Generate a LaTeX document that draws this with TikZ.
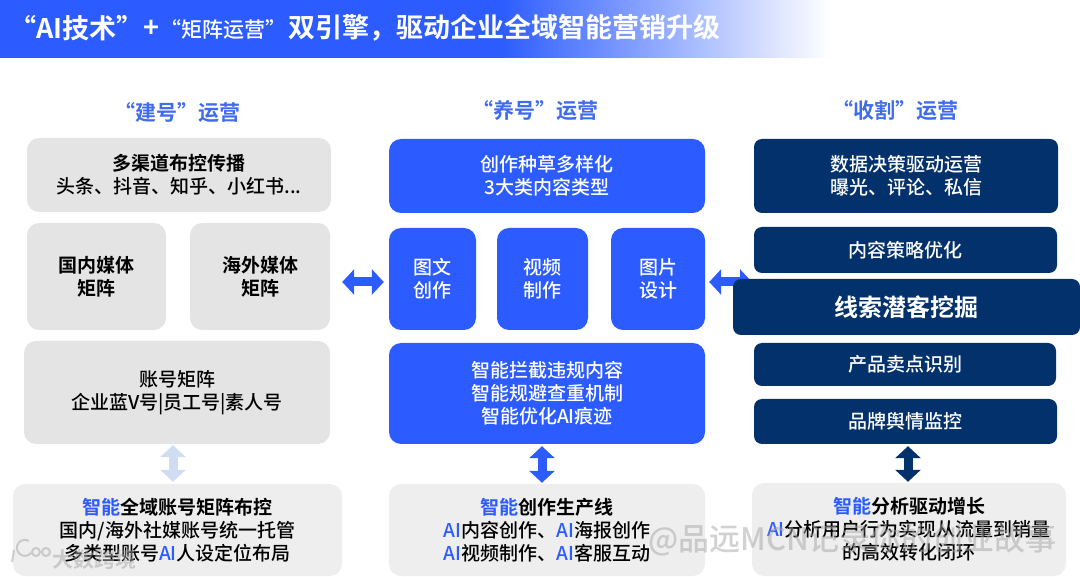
\documentclass[tikz,border=0pt]{standalone}
\usepackage{fontspec}
\setmainfont{Noto Sans CJK SC}[UprightFont=* Medium, BoldFont=* Bold]
\usetikzlibrary{arrows.meta, calc, positioning}
\definecolor{brandblue}{HTML}{2C5CFF}
\definecolor{headblue}{HTML}{3F6BEE}
\definecolor{navy}{HTML}{03316B}
\definecolor{greyA}{HTML}{E4E4E4}
\definecolor{greyB}{HTML}{EEEEEE}
\definecolor{paleblue}{HTML}{CFDCF2}
\tikzset{
    block/.style={rounded corners=12pt, inner sep=0pt, align=center, font=\fontsize{19}{23}\selectfont},
    greybox/.style={block, fill=greyA, text=black},
    aibox/.style={block, fill=greyB, text=black},
    bluebox/.style={block, fill=brandblue, text=white},
    navybox/.style={block, fill=navy, text=white, rounded corners=8pt},
    heading/.style={font=\fontsize{21}{25}\selectfont\bfseries, text=headblue},
    twoway/.style={{Triangle[width=25pt,length=12pt]}-{Triangle[width=25pt,length=12pt]}, line width=9pt},
    markwm/.style={text=gray!70, opacity=0.5}
}
\newcommand{\block}[6]{
    \node[#2, minimum width=#4pt, minimum height=#5pt] (#1) at (#3) {#6};
}
\newcommand{\ai}[1]{\textcolor{brandblue}{#1}}
\begin{document}
\begin{tikzpicture}[x=1pt, y=-1pt]
    \useasboundingbox (0,0) rectangle (1080,577);
    % title band
    \fill[brandblue] (0,0) rectangle (500,58);
    \shade[left color=brandblue, right color=white] (500,0) rectangle (830,58);
    \node[anchor=west, inner sep=0pt, text=white, font=\fontsize{27}{31}\selectfont\bfseries] (t1) at (9,28) {“AI技术”};
    \node[anchor=west, inner sep=0pt, text=white, font=\fontsize{27}{31}\selectfont\bfseries] (t2) at (143,29) {+};
    \node[anchor=west, inner sep=0pt, text=white, font=\fontsize{21}{25}\selectfont] (t3) at (160,30) {“矩阵运营”};
    \node[anchor=west, inner sep=0pt, text=white, font=\fontsize{27}{31}\selectfont\bfseries] (t4) at (288,28) {双引擎，驱动企业全域智能营销升级};
    % column headings
    \node[heading] (h1) at (177,113) {“建号”运营};
    \node[heading] (h2) at (535,111) {“养号”运营};
    \node[heading] (h3) at (895,111) {“收割”运营};
    % left column
    \block{channels}{greybox}{179,175}{304}{74}{\textbf{多渠道布控传播}\\头条、抖音、知乎、小红书...}
    \block{domestic}{greybox}{96.5,276.5}{139}{107}{\textbf{国内媒体}\\\textbf{矩阵}}
    \block{overseas}{greybox}{260,276.5}{140}{107}{\textbf{海外媒体}\\\textbf{矩阵}}
    \block{accounts}{greybox}{177,392.5}{306}{103}{账号矩阵\\企业蓝V号|员工号|素人号}
    \block{layout}{aibox}{177.5,530}{329}{92}{\textbf{\ai{智能}全域账号矩阵布控}\\国内/海外社媒账号统一托管\\多类型账号\ai{AI}人设定位布局}
    % middle column
    \block{variety}{bluebox}{547,176}{316}{74}{创作种草多样化\\3大类内容类型}
    \block{tuwen}{bluebox}{432.5,279}{87}{102}{图文\\创作}
    \block{video}{bluebox}{542.5,279}{91}{102}{视频\\制作}
    \block{image}{bluebox}{658,279}{94}{102}{图片\\设计}
    \block{guard}{bluebox}{547,393.5}{316}{101}{智能拦截违规内容\\智能规避查重机制\\智能优化AI痕迹}
    \block{pipeline}{aibox}{547,530}{316}{92}{\textbf{\ai{智能}创作生产线}\\\ai{AI}内容创作、\ai{AI}海报创作\\\ai{AI}视频制作、\ai{AI}客服互动}
    % right column
    \block{decision}{navybox}{906,176}{304}{74}{数据决策驱动运营\\曝光、评论、私信}
    \block{strategy}{navybox}{905.5,250}{303}{46}{内容策略优化}
    \coordinate (leadtip) at (752,282);
    \draw[twoway, brandblue] (image.east |- leadtip) ++(4,0) -- (leadtip);
    \block{leads}{navybox, font=\fontsize{24}{28}\selectfont\bfseries}{906.5,307}{347}{56}{\raisebox{2pt}{线索潜客挖掘}}
    \block{selling}{navybox}{905,364.5}{302}{43}{产品卖点识别}
    \block{opinion}{navybox}{905.5,421.5}{303}{45}{品牌舆情监控}
    \block{growth}{aibox}{909,529.5}{314}{93}{\textbf{\ai{智能}分析驱动增长}\\\ai{AI}分析用户行为实现从流量到销量\\的高效转化闭环}
    % connectors
    \coordinate (armleft) at (173,0);
    \coordinate (armmid) at (542,0);
    \coordinate (armright) at (908,0);
    \coordinate (armrow) at (0,282);
    \draw[twoway, paleblue] (accounts.south -| armleft) ++(0,1) -- ($(layout.north -| armleft)+(0,-2)$);
    \draw[twoway, brandblue] (guard.south -| armmid) ++(0,2) -- ($(pipeline.north -| armmid)+(0,-1)$);
    \draw[twoway, navy] (opinion.south -| armright) ++(0,2) -- ($(growth.north -| armright)+(0,-1)$);
    \draw[twoway, brandblue, shorten <=12pt, shorten >=5pt] (overseas.east |- armrow) -- (tuwen.west |- armrow);
    % marks printed over the picture
    \node[markwm, anchor=west, inner sep=0pt, font=\fontsize{31}{35}\selectfont] (mark1) at (648,540) {@品远MCN记录你的创业故事};
    \node[markwm, anchor=west, inner sep=0pt, font=\fontsize{21}{25}\selectfont\bfseries] (mark2) at (52,559) {大数跨境};
    \draw[gray!70, opacity=0.5, line width=2pt] (14,550) -- (12,562) (31,553) arc (40:300:8) (36,552) circle (4) (46,552) circle (4);
\end{tikzpicture}
\end{document}
